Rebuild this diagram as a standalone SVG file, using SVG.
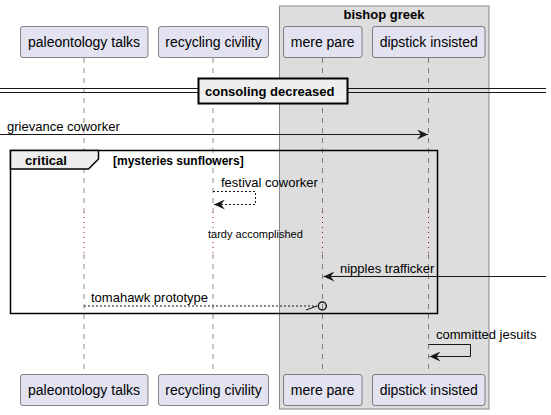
<svg xmlns="http://www.w3.org/2000/svg" width="551" height="415" viewBox="0 0 551 415">
<defs>
<style>
.p{fill:#E2E2F0;stroke:#181818;stroke-width:0.5}
.pt{font-family:"Liberation Sans",Arial,sans-serif;font-size:14px;fill:#000;text-anchor:middle}
.m{font-family:"Liberation Sans",Arial,sans-serif;font-size:13px;fill:#000}
.b{font-family:"Liberation Sans",Arial,sans-serif;font-size:13px;font-weight:bold;fill:#000}
.s{font-family:"Liberation Sans",Arial,sans-serif;font-size:11px;fill:#000}
.ll{stroke:#181818;stroke-width:0.5;stroke-dasharray:5,5;fill:none}
.dl{stroke:#A80036;stroke-width:1;stroke-dasharray:1,4;fill:none}
.ln{stroke:#181818;stroke-width:1;fill:none}
.dsh{stroke:#181818;stroke-width:1;fill:none;stroke-dasharray:2,2}
</style>
<marker id="ah" viewBox="0 0 12 10" refX="11" refY="5" markerWidth="12" markerHeight="10" markerUnits="userSpaceOnUse" orient="auto">
<path d="M0,0 L11,5 L0,10 L4,5 Z" fill="#181818"/>
</marker>
</defs>
<rect id="box-bishop-greek" x="279.5" y="6" width="209.5" height="403" fill="#DDDDDD" stroke="#888888" stroke-width="1"/>
<text class="b" x="384" y="19" text-anchor="middle">bishop greek</text>
<g id="lifelines">
<line class="ll" x1="84" y1="58" x2="84" y2="212"/>
<line class="dl" x1="84" y1="212" x2="84" y2="254"/>
<line class="ll" x1="84" y1="254" x2="84" y2="374"/>
<line class="ll" x1="213" y1="58" x2="213" y2="212"/>
<line class="dl" x1="213" y1="212" x2="213" y2="254"/>
<line class="ll" x1="213" y1="254" x2="213" y2="374"/>
<line class="ll" x1="322.5" y1="58" x2="322.5" y2="212"/>
<line class="dl" x1="322.5" y1="212" x2="322.5" y2="254"/>
<line class="ll" x1="322.5" y1="254" x2="322.5" y2="374"/>
<line class="ll" x1="428.5" y1="58" x2="428.5" y2="212"/>
<line class="dl" x1="428.5" y1="212" x2="428.5" y2="254"/>
<line class="ll" x1="428.5" y1="254" x2="428.5" y2="374"/>
</g>
<g id="p-paleontology-talks">
<rect class="p" x="20.5" y="26.5" width="127.5" height="31" rx="2.5"/>
<text class="pt" x="84" y="47">paleontology talks</text>
<rect class="p" x="20.5" y="374.5" width="127.5" height="31" rx="2.5"/>
<text class="pt" x="84" y="395">paleontology talks</text>
</g>
<g id="p-recycling-civility">
<rect class="p" x="158.5" y="26.5" width="110" height="31" rx="2.5"/>
<text class="pt" x="213.5" y="47">recycling civility</text>
<rect class="p" x="158.5" y="374.5" width="110" height="31" rx="2.5"/>
<text class="pt" x="213.5" y="395">recycling civility</text>
</g>
<g id="p-mere-pare">
<rect class="p" x="283.5" y="26.5" width="78.5" height="31" rx="2.5"/>
<text class="pt" x="322.7" y="47">mere pare</text>
<rect class="p" x="283.5" y="374.5" width="78.5" height="31" rx="2.5"/>
<text class="pt" x="322.7" y="395">mere pare</text>
</g>
<g id="p-dipstick-insisted">
<rect class="p" x="372.5" y="26.5" width="112.5" height="31" rx="2.5"/>
<text class="pt" x="428.7" y="47">dipstick insisted</text>
<rect class="p" x="372.5" y="374.5" width="112.5" height="31" rx="2.5"/>
<text class="pt" x="428.7" y="395">dipstick insisted</text>
</g>
<g id="divider-consoling-decreased">
<line class="ln" x1="0" y1="88.5" x2="546" y2="88.5"/>
<line class="ln" x1="0" y1="92.5" x2="546" y2="92.5"/>
<rect x="198.5" y="78.5" width="149" height="25" fill="#EEEEEE" stroke="#000" stroke-width="2"/>
<text class="b" x="205" y="96">consoling decreased</text>
</g>
<g id="frame-critical">
<rect x="10.5" y="150.5" width="427" height="163" fill="none" stroke="#000" stroke-width="1.5"/>
<path d="M10.5,150.5 L98.5,150.5 L98.5,159 L88.5,169 L10.5,169 Z" fill="#EEEEEE" stroke="#000" stroke-width="1.5"/>
<text class="b" x="25" y="165">critical</text>
<text class="b" x="113" y="164.5" style="font-size:12px">[mysteries sunflowers]</text>
</g>
<g id="connectors">
<line class="ln" x1="0" y1="134.5" x2="428" y2="134.5" marker-end="url(#ah)"/>
<text class="m" x="7" y="131">grievance coworker</text>
<polyline class="dsh" points="213,191.5 255.5,191.5 255.5,204.5 214,204.5" marker-end="url(#ah)"/>
<text class="m" x="221" y="187">festival coworker</text>
<text class="s" x="208" y="238">tardy accomplished</text>
<line class="ln" x1="546" y1="276.5" x2="323.5" y2="276.5" marker-end="url(#ah)"/>
<text class="m" x="340" y="273">nipples trafficker</text>
<line class="dsh" x1="84" y1="306" x2="317" y2="306"/>
<line class="ln" x1="317" y1="306" x2="306" y2="310"/>
<circle cx="322.3" cy="306" r="4" fill="none" stroke="#181818" stroke-width="1.5"/>
<text class="m" x="91" y="302">tomahawk prototype</text>
<polyline class="ln" points="428.5,344.5 470.5,344.5 470.5,356.5 429.5,356.5" marker-end="url(#ah)"/>
<text class="m" x="436" y="339">committed jesuits</text>
</g>
</svg>
